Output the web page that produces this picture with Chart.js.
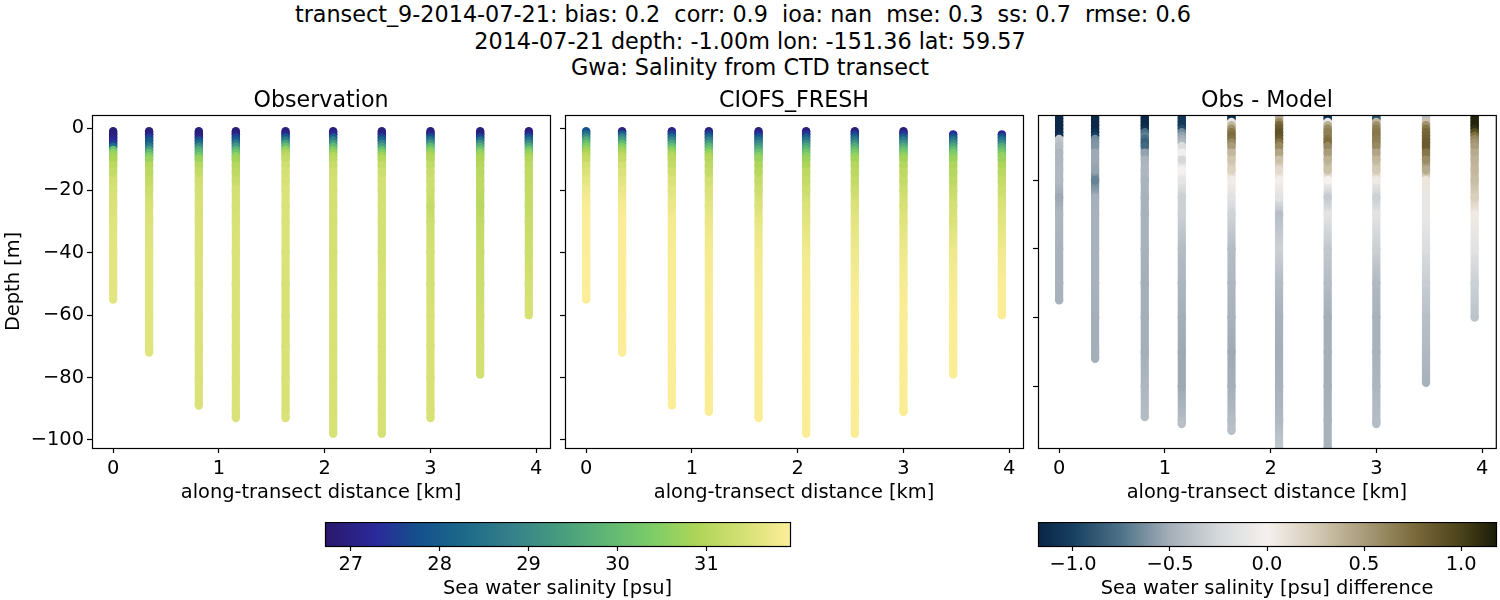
<!DOCTYPE html>
<html lang="en">
<head>
  <meta charset="UTF-8">
  <title>Gwa: Salinity from CTD transect</title>
  <script src="https://cdn.jsdelivr.net/npm/chart.js"></script>
  <style>
    body { margin: 0; background: #fff; font-family: "DejaVu Sans", sans-serif; }
    #page { position: relative; width: 1500px; height: 600px; overflow: hidden; }
    #suptitle {
      position: absolute; left: 0; top: 0; width: 1500px; text-align: center;
      font-size: 22.3px; line-height: 26.6px; white-space: pre; color: #000; padding-top: 1px;
    }
    canvas { position: absolute; }
  </style>
</head>
<body>
<div id="page">
  <div id="suptitle">transect_9-2014-07-21: bias: 0.2  corr: 0.9  ioa: nan  mse: 0.3  ss: 0.7  rmse: 0.6  
2014-07-21 depth: -1.00m lon: -151.36 lat: 59.57
Gwa: Salinity from CTD transect</div>
  <canvas id="obs" width="557" height="417" style="left:0;top:88px"></canvas>
  <canvas id="model" width="475" height="417" style="left:555px;top:88px"></canvas>
  <canvas id="diff" width="472" height="417" style="left:1028px;top:88px"></canvas>
  <canvas id="cbSalinity" width="485" height="79" style="left:315px;top:522px"></canvas>
  <canvas id="cbDiff" width="478" height="79" style="left:1028px;top:522px"></canvas>
</div>

<script>
  const castDistance = [0, 0.34, 0.81, 1.16, 1.63, 2.08, 2.54, 3.0, 3.47, 3.93];
  const depthLevels = [-1, -2, -3, -4, -5, -6, -7, -8, -9, -10, -12, -14, -17, -20, -25, -30, -40, -50, -60, -70, -80, -90];

  const obsBottom = [-55, -72, -89, -93, -93, -98, -98, -93, -79, -60];
  const modelBottom = [-55, -72, -89, -91, -93, -98, -98, -91, -79, -60];
  const diffBottom = [-55, -72, -89, -91, -93, -98, -98, -91, -79, -60];

  const obsSalinity = [
    [26.9, 26.9, 27.0, 27.2, 27.5, 28.3, 30.1, 30.6, 30.8, 30.9, 31.1, 31.2, 31.35, 31.45, 31.5, 31.55, 31.6, 31.6, 31.6],
    [26.9, 27.0, 27.5, 27.9, 28.1, 28.6, 29.3, 29.9, 30.4, 30.7, 31.0, 31.1, 31.2, 31.3, 31.45, 31.5, 31.55, 31.55, 31.55, 31.55, 31.55],
    [26.9, 26.9, 27.1, 27.8, 28.3, 29.0, 29.6, 29.9, 30.3, 30.7, 31.0, 31.2, 31.35, 31.4, 31.45, 31.45, 31.5, 31.5, 31.5, 31.5, 31.5, 31.5],
    [26.9, 27.0, 27.6, 28.0, 28.6, 29.2, 29.8, 30.2, 30.6, 30.8, 31.0, 31.1, 31.25, 31.4, 31.4, 31.45, 31.5, 31.5, 31.5, 31.5, 31.5, 31.5, 31.5],
    [26.9, 27.1, 27.9, 28.6, 29.4, 30.0, 30.6, 30.9, 31.1, 31.2, 31.35, 31.4, 31.45, 31.5, 31.5, 31.5, 31.5, 31.45, 31.45, 31.45, 31.45, 31.45, 31.5],
    [26.9, 27.2, 28.0, 28.7, 29.3, 29.9, 30.4, 30.7, 31.0, 31.1, 31.25, 31.35, 31.4, 31.4, 31.4, 31.4, 31.4, 31.45, 31.45, 31.45, 31.45, 31.45, 31.45],
    [26.9, 27.0, 27.6, 28.1, 28.8, 29.4, 30.0, 30.5, 30.8, 31.0, 31.2, 31.3, 31.4, 31.4, 31.4, 31.4, 31.4, 31.45, 31.45, 31.45, 31.45, 31.45, 31.45],
    [26.9, 27.1, 27.8, 28.5, 29.2, 29.9, 30.4, 30.7, 30.9, 31.0, 31.15, 31.25, 31.3, 31.3, 31.2, 31.3, 31.4, 31.4, 31.45, 31.45, 31.45, 31.45, 31.45],
    [26.9, 27.0, 27.6, 28.4, 29.1, 29.7, 30.2, 30.6, 30.8, 30.9, 31.0, 31.05, 31.1, 31.1, 31.05, 31.15, 31.25, 31.3, 31.35, 31.4, 31.4],
    [26.9, 27.1, 27.8, 28.4, 29.0, 29.6, 30.2, 30.6, 30.8, 31.0, 31.1, 31.15, 31.15, 31.2, 31.2, 31.25, 31.3, 31.4, 31.45]
  ];

  const modelSalinity = [
    [27.8, 28.4, 29.0, 29.6, 30.0, 30.4, 30.7, 30.9, 31.1, 31.2, 31.4, 31.5, 31.65, 31.75, 31.88, 31.92, 31.93, 31.93, 31.93],
    [27.0, 28.0, 28.8, 29.3, 29.9, 30.4, 30.7, 30.9, 31.1, 31.2, 31.4, 31.5, 31.6, 31.72, 31.85, 31.9, 31.93, 31.93, 31.93, 31.93, 31.93],
    [27.0, 27.6, 28.3, 28.9, 29.5, 30.0, 30.5, 30.8, 31.0, 31.1, 31.2, 31.35, 31.5, 31.6, 31.72, 31.82, 31.88, 31.9, 31.93, 31.93, 31.93, 31.93],
    [27.0, 27.6, 28.2, 28.8, 29.3, 29.8, 30.2, 30.6, 30.9, 31.0, 31.1, 31.2, 31.4, 31.5, 31.6, 31.72, 31.82, 31.85, 31.88, 31.88, 31.88, 31.9, 31.9],
    [26.9, 27.3, 27.9, 28.4, 28.9, 29.3, 29.7, 30.1, 30.5, 30.7, 30.9, 31.0, 31.2, 31.3, 31.5, 31.65, 31.78, 31.85, 31.88, 31.9, 31.9, 31.9, 31.9],
    [26.9, 27.4, 28.0, 28.5, 29.0, 29.5, 29.9, 30.2, 30.5, 30.7, 30.9, 31.1, 31.2, 31.3, 31.5, 31.6, 31.78, 31.85, 31.88, 31.9, 31.9, 31.9, 31.9],
    [26.9, 27.5, 28.1, 28.6, 29.1, 29.6, 30.0, 30.3, 30.6, 30.8, 31.0, 31.1, 31.2, 31.3, 31.5, 31.6, 31.75, 31.85, 31.9, 31.9, 31.9, 31.9, 31.9],
    [26.9, 27.4, 28.0, 28.6, 29.1, 29.6, 30.0, 30.3, 30.6, 30.8, 31.0, 31.1, 31.2, 31.3, 31.45, 31.55, 31.75, 31.85, 31.9, 31.9, 31.9, 31.9, 31.9],
    [null, 27.3, 27.9, 28.5, 29.0, 29.5, 29.9, 30.3, 30.5, 30.7, 30.9, 31.0, 31.1, 31.25, 31.4, 31.5, 31.75, 31.85, 31.9, 31.9, 31.9],
    [null, 27.2, 27.9, 28.5, 29.0, 29.6, 30.0, 30.3, 30.6, 30.7, 30.9, 31.05, 31.2, 31.3, 31.5, 31.6, 31.78, 31.9, 31.9]
  ];

  const diffSalinity = [
    [-1.15, -1.15, -1.15, -1.15, -1.15, -1.15, -1.1, -0.34, -0.38, -0.42, -0.45, -0.45, -0.44, -0.44, -0.52, -0.46, -0.48, -0.48, -0.48],
    [-1.15, -1.15, -1.15, -1.15, -1.15, -1.1, -1.0, -0.65, -0.62, -0.6, -0.52, -0.52, -0.55, -0.68, -0.5, -0.48, -0.48, -0.48, -0.5, -0.5, -0.5],
    [-1.15, -1.15, -1.15, -1.15, -1.1, -0.78, -0.7, -0.78, -0.85, -0.8, -0.55, -0.47, -0.45, -0.47, -0.48, -0.48, -0.48, -0.5, -0.5, -0.5, -0.45, -0.42],
    [-1.05, -1.05, -1.05, -1.05, -0.95, -0.65, -0.55, -0.5, -0.45, -0.2, -0.03, -0.25, 0.0, -0.12, -0.3, -0.3, -0.42, -0.46, -0.5, -0.52, -0.52, -0.42, -0.4],
    [-1.15, -1.1, -0.1, 0.35, 0.55, 0.7, 0.75, 0.72, 0.6, 0.5, 0.35, 0.28, 0.2, 0.03, -0.15, -0.28, -0.42, -0.45, -0.48, -0.52, -0.5, -0.42, -0.4],
    [0.45, 0.4, 0.6, 0.78, 0.85, 0.9, 0.9, 0.85, 0.72, 0.6, 0.45, 0.3, 0.15, 0.02, -0.15, -0.4, -0.3, -0.42, -0.48, -0.5, -0.48, -0.44, -0.35],
    [-1.1, -1.1, -0.1, 0.4, 0.6, 0.65, 0.65, 0.72, 0.75, 0.6, 0.5, 0.38, 0.3, 0.0, -0.33, -0.15, -0.35, -0.42, -0.5, -0.5, -0.5, -0.48, -0.48],
    [-1.05, -0.9, 0.35, 0.55, 0.65, 0.68, 0.7, 0.66, 0.65, 0.6, 0.45, 0.35, 0.25, 0.05, -0.3, -0.15, -0.3, -0.44, -0.48, -0.48, -0.46, -0.42, -0.42],
    [-0.4, -0.4, 0.3, 0.55, 0.7, 0.78, 0.8, 0.82, 0.85, 0.85, 0.7, 0.58, 0.42, 0.08, -0.1, -0.1, -0.2, -0.32, -0.4, -0.44, -0.48],
    [1.15, 1.15, 1.15, 1.15, 1.1, 0.95, 0.75, 0.62, 0.55, 0.5, 0.42, 0.38, 0.35, 0.32, 0.22, 0.05, -0.15, -0.3, -0.38]
  ];

  const xTicks = [0, 1, 2, 3, 4];
  const yTicks = [0, -20, -40, -60, -80, -100];
  const diffYTicks = [-20, -40, -60, -80];
  const salinityTicks = [27, 28, 29, 30, 31];
  const diffTicks = [-1.0, -0.5, 0.0, 0.5, 1.0];

  const salinityRange = [26.71, 31.94];
  const diffRange = [-1.18, 1.18];

  // colormap anchor colours
  const halineStops = [[0, '#2a186c'], [0.11, '#2a2a9a'], [0.2, '#14508c'], [0.3, '#1c6a8a'], [0.4, '#35808a'], [0.5, '#459b7e'], [0.6, '#5eb575'], [0.7, '#7bcc68'], [0.8, '#aed557'], [0.9, '#d5e074'], [1, '#fdee99']];
  const diffStops = [[0, '#0a2546'], [0.076, '#173f60'], [0.182, '#4e7289'], [0.288, '#a4afb9'], [0.394, '#d5d8db'], [0.5, '#f5f1ee'], [0.606, '#d5cab5'], [0.712, '#a89c7a'], [0.818, '#7d6c3c'], [0.924, '#4a421a'], [1, '#1b1d08']];

  Chart.defaults.font.family = '"DejaVu Sans", sans-serif';
  Chart.defaults.font.size = 19.4;
  Chart.defaults.color = '#000';
  Chart.defaults.animation = false;

  function hexRgb(h) {
    return [1, 3, 5].map(i => parseInt(h.slice(i, i + 2), 16));
  }

  function cmap(stops, range, v) {
    let t = (v - range[0]) / (range[1] - range[0]);
    t = Math.min(1, Math.max(0, t));
    for (let i = 1; i < stops.length; i++) {
      if (t <= stops[i][0]) {
        const f = (t - stops[i - 1][0]) / (stops[i][0] - stops[i - 1][0]);
        const a = hexRgb(stops[i - 1][1]), b = hexRgb(stops[i][1]);
        return `rgb(${a.map((c, k) => Math.round(c + (b[k] - c) * f)).join(',')})`;
      }
    }
    return stops[stops.length - 1][1];
  }

  // black box around the axes
  const frame = {
    id: 'frame',
    afterDatasetsDraw(chart) {
      const a = chart.chartArea, ctx = chart.ctx;
      ctx.save();
      ctx.strokeStyle = '#000';
      ctx.lineWidth = 1.2;
      ctx.strokeRect(a.left + 0.5, a.top + 0.5, a.right - a.left, a.bottom - a.top);
      ctx.restore();
    }
  };

  function castDataset(i, values, bottoms, stops, range) {
    const depths = depthLevels.filter(d => d > bottoms[i]).concat(bottoms[i]);
    const points = [];
    const colors = [];
    values[i].forEach((v, k) => {
      if (v === null) return;
      points.push({ x: castDistance[i], y: depths[k] });
      colors.push(cmap(stops, range, v));
    });
    return {
      data: points,
      showLine: true,
      clip: 0,
      borderWidth: 8.2,
      pointRadius: 4.2,
      pointBorderWidth: 0,
      pointBackgroundColor: colors,
      segment: {
        borderColor: c => {
          const g = c.chart.ctx.createLinearGradient(0, c.p0.y, 0, c.p1.y);
          g.addColorStop(0, colors[c.p0DataIndex]);
          g.addColorStop(1, colors[c.p1DataIndex]);
          return g;
        }
      }
    };
  }

  function makePanel(id, opts) {
    new Chart(document.getElementById(id), {
      type: 'scatter',
      data: { datasets: castDistance.map((_, i) => castDataset(i, opts.values, opts.bottoms, opts.stops, opts.range)) },
      plugins: [frame],
      options: {
        responsive: false,
        layout: { padding: { right: opts.padRight } },
        plugins: {
          legend: { display: false },
          tooltip: { enabled: false },
          title: { display: true, fullSize: false, text: opts.title, font: { size: 22.2, weight: 'normal', lineHeight: 1.2 }, padding: { top: 0, bottom: 0.36 } }
        },
        scales: {
          x: {
            type: 'linear',
            min: -0.2,
            max: 4.13,
            afterBuildTicks: s => { s.ticks = xTicks.map(v => ({ value: v })); },
            afterFit: s => { s.height = 57; },
            grid: { drawOnChartArea: false, tickLength: 5, tickColor: '#000', tickWidth: 1.2 },
            border: { display: false },
            ticks: { maxRotation: 0, padding: 4.5, callback: v => String(v) },
            title: { display: true, text: 'along-transect distance [km]', padding: { top: 0, bottom: 0 } }
          },
          y: {
            type: 'linear',
            min: opts.yMin,
            max: opts.yMax,
            afterBuildTicks: s => { s.ticks = opts.yTicks.map(v => ({ value: v })); },
            afterFit: s => { s.width = opts.axisWidth; },
            grid: { drawOnChartArea: false, tickLength: 5, tickColor: '#000', tickWidth: 1.2 },
            border: { display: false },
            ticks: { display: opts.showY, padding: 3, callback: v => String(v).replace('-', '\u2212') },
            title: { display: opts.showY, text: 'Depth [m]', padding: { top: 2, bottom: 0 } }
          }
        }
      }
    });
  }

  function makeColorbar(id, label, range, ticks, stops, fmt) {
    new Chart(document.getElementById(id), {
      type: 'bar',
      data: {
        labels: [''],
        datasets: [{
          data: [range],
          barPercentage: 1,
          categoryPercentage: 1,
          backgroundColor: c => {
            const a = c.chart.chartArea;
            if (!a) return '#888';
            const g = c.chart.ctx.createLinearGradient(a.left, 0, a.right, 0);
            stops.forEach(s => g.addColorStop(s[0], s[1]));
            return g;
          }
        }]
      },
      plugins: [frame],
      options: {
        indexAxis: 'y',
        responsive: false,
        layout: { padding: { left: 10, right: 10 } },
        plugins: { legend: { display: false }, tooltip: { enabled: false } },
        scales: {
          y: { display: false },
          x: {
            type: 'linear',
            min: range[0],
            max: range[1],
            afterBuildTicks: s => { s.ticks = ticks.map(v => ({ value: v })); },
            afterFit: s => { s.height = 55; },
            grid: { drawOnChartArea: false, tickLength: 5, tickColor: '#000', tickWidth: 1.2 },
            border: { display: false },
            ticks: { maxRotation: 0, padding: 2, callback: fmt },
            title: { display: true, text: label, padding: { top: 0, bottom: 0 } }
          }
        }
      }
    });
  }

  makePanel('obs', { title: 'Observation', values: obsSalinity, bottoms: obsBottom, stops: halineStops, range: salinityRange,
    yMin: -102.6, yMax: 4.2, yTicks: yTicks, showY: true, axisWidth: 92, padRight: 7 });
  makePanel('model', { title: 'CIOFS_FRESH', values: modelSalinity, bottoms: modelBottom, stops: halineStops, range: salinityRange,
    yMin: -102.6, yMax: 4.2, yTicks: yTicks, showY: false, axisWidth: 10, padRight: 7 });
  makePanel('diff', { title: 'Obs - Model', values: diffSalinity, bottoms: diffBottom, stops: diffStops, range: diffRange,
    yMin: -98, yMax: -1, yTicks: diffYTicks, showY: false, axisWidth: 10, padRight: 4 });

  makeColorbar('cbSalinity', 'Sea water salinity [psu]', salinityRange, salinityTicks, halineStops, v => String(v));
  makeColorbar('cbDiff', 'Sea water salinity [psu] difference', diffRange, diffTicks, diffStops,
    v => v.toFixed(1).replace('-', '\u2212'));
</script>
</body>
</html>
